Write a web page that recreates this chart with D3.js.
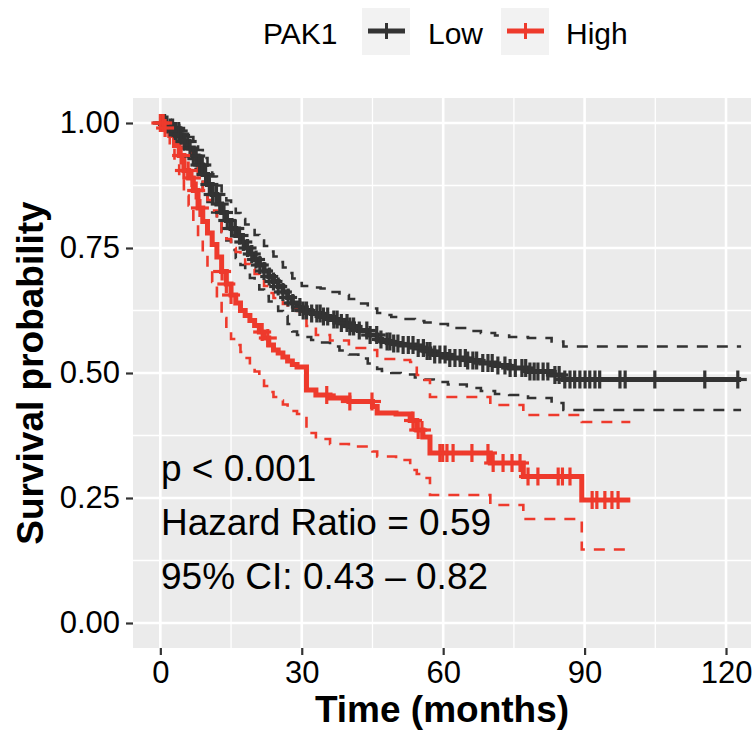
<!DOCTYPE html>
<html>
<head>
<meta charset="utf-8">
<script src="https://cdn.jsdelivr.net/npm/d3@7"></script>
<style>
  body { margin: 0; background: #fff; }
  text { font-family: "Liberation Sans", Arial, sans-serif; }
</style>
</head>
<body>
<div id="chart"></div>
<script>
// ---------- DATA ----------
const lowTime = [0,1,2,3,4,5,6,7,8,9,10,11,12,13,14,15,16,17,18,19,20,21,22,23,24,25,26,27,28,29,30,32,34,36,38,40,42,44,46,47,49,51,54,56,58,61,65,68,71,74,78,83,85.5];
const lowSurv = [1,0.997,0.991,0.984,0.975,0.963,0.95,0.934,0.916,0.897,0.877,0.857,0.838,0.821,0.805,0.789,0.775,0.762,0.75,0.738,0.727,0.716,0.704,0.693,0.683,0.673,0.662,0.651,0.64,0.632,0.625,0.619,0.613,0.607,0.6,0.593,0.585,0.576,0.567,0.563,0.559,0.556,0.55,0.544,0.537,0.53,0.525,0.52,0.515,0.51,0.503,0.496,0.487];
const lowUpper = [1,1,1,0.996,0.99,0.982,0.972,0.96,0.946,0.93,0.912,0.893,0.875,0.86,0.845,0.832,0.82,0.808,0.797,0.786,0.776,0.765,0.754,0.743,0.733,0.722,0.711,0.7,0.689,0.68,0.674,0.671,0.669,0.662,0.656,0.648,0.639,0.629,0.62,0.616,0.612,0.608,0.604,0.601,0.598,0.59,0.584,0.58,0.575,0.572,0.57,0.563,0.553];
const lowLower = [1,0.99,0.982,0.972,0.96,0.945,0.928,0.908,0.886,0.864,0.842,0.821,0.801,0.782,0.765,0.746,0.73,0.716,0.703,0.69,0.678,0.667,0.654,0.643,0.633,0.624,0.614,0.598,0.583,0.576,0.572,0.566,0.561,0.553,0.545,0.537,0.529,0.519,0.508,0.504,0.5,0.497,0.491,0.487,0.482,0.477,0.47,0.464,0.458,0.456,0.45,0.44,0.426];
const lowCensor = [0.3,0.9,1.4,2.1,2.6,3.2,3.9,4.4,5.1,5.8,6.3,7.0,7.6,8.3,8.9,9.6,10.4,11.1,11.9,12.6,13.5,14.2,15.1,15.9,16.8,17.6,18.5,19.4,20.3,21.1,22.0,23.1,24.0,25.0,26,27.1,28.1,29.6,30.3,31,32.1,33.2,33.9,34.6,35.5,36.8,37.5,38.4,39.6,40.2,41,42.2,43.8,44.5,45.9,46.8,48.1,48.7,49.5,50.4,51.5,52.6,53.6,54.7,55.8,56.6,57.2,58.2,59.3,60.4,61.4,62.5,63.6,64.7,65.2,66.3,67.1,68.4,69.5,70.4,71.6,73.1,74.2,75.3,76.7,77.5,78.4,79.3,80.1,81.2,82.2,83.7,84.6,85.8,86.9,87.9,89,90.1,91.1,92.2,93.2,97.5,98.6,104.9,115.5,122.5];
const lowEnd = 123.2;

const highTime = [0,1,2,3,4,5,6,7,8,9,10,11,12,13,14,15,16,17,18,19,20,21,22,23,24,25,26,27,28,29,31,33,36,40,45,46,50,53,54.4,55.7,57.2,70,77,89.4];
const highSurv = [1,0.99,0.975,0.955,0.935,0.905,0.89,0.865,0.83,0.803,0.78,0.757,0.732,0.703,0.678,0.656,0.64,0.625,0.615,0.605,0.595,0.582,0.57,0.556,0.546,0.54,0.532,0.524,0.517,0.512,0.466,0.456,0.45,0.443,0.433,0.42,0.418,0.405,0.386,0.372,0.34,0.32,0.293,0.246];
const highUpper = [1,1,0.995,0.985,0.972,0.95,0.94,0.92,0.89,0.866,0.846,0.825,0.805,0.782,0.768,0.75,0.742,0.73,0.718,0.708,0.698,0.688,0.674,0.66,0.65,0.644,0.638,0.632,0.628,0.624,0.594,0.576,0.565,0.55,0.546,0.528,0.526,0.522,0.496,0.486,0.452,0.436,0.416,0.402];
const highLower = [1,0.975,0.955,0.925,0.895,0.855,0.835,0.8,0.765,0.735,0.705,0.682,0.64,0.61,0.585,0.568,0.556,0.542,0.53,0.516,0.503,0.49,0.474,0.462,0.452,0.445,0.437,0.43,0.424,0.418,0.38,0.368,0.358,0.353,0.343,0.333,0.326,0.306,0.298,0.29,0.256,0.236,0.208,0.147];
const highCensor = [0,0.6,1,4.4,5,5.9,6.7,7.6,8.4,13.1,14,15,21.6,22.8,35.3,40.2,44.9,53.6,54.7,55.5,59.3,59.9,60.8,62.1,66.1,69.5,70.6,72.7,74.6,76.3,78,80.1,84.4,85.3,86.9,91.6,92.6,94.3,95.8,97.1];
const highEnd = 99.7;

const xTicks = [0, 30, 60, 90, 120];
const yTicks = [0, 0.25, 0.5, 0.75, 1];
const groupNames = ["Low", "High"];
const groupColors = ["#333333", "#EE3A2C"];
const annot = ["p < 0.001", "Hazard Ratio = 0.59", "95% CI: 0.43 \u2013 0.82"];

// ---------- LAYOUT ----------
const w = 756, h = 732;
const panel = { left: 133, right: 751, top: 98, bottom: 648 };

const svg = d3.select("#chart").append("svg").attr("width", w).attr("height", h);

const x = d3.scaleLinear().domain([-5.8, 125.3]).range([panel.left, panel.right]);
const y = d3.scaleLinear().domain([-0.05, 1.05]).range([panel.bottom, panel.top]);

// panel background + grid
svg.append("rect")
  .attr("x", panel.left).attr("y", panel.top)
  .attr("width", panel.right - panel.left).attr("height", panel.bottom - panel.top)
  .attr("fill", "#EBEBEB");

const grid = svg.append("g");
const xMinor = [15, 45, 75, 105];
const yMinor = [0.125, 0.375, 0.625, 0.875];
grid.selectAll(".xmin").data(xMinor).enter().append("line")
  .attr("x1", d => x(d)).attr("x2", d => x(d)).attr("y1", panel.top).attr("y2", panel.bottom)
  .attr("stroke", "#fff").attr("stroke-width", 1.3);
grid.selectAll(".ymin").data(yMinor).enter().append("line")
  .attr("y1", d => y(d)).attr("y2", d => y(d)).attr("x1", panel.left).attr("x2", panel.right)
  .attr("stroke", "#fff").attr("stroke-width", 1.3);
grid.selectAll(".xmaj").data(xTicks).enter().append("line")
  .attr("x1", d => x(d)).attr("x2", d => x(d)).attr("y1", panel.top).attr("y2", panel.bottom)
  .attr("stroke", "#fff").attr("stroke-width", 2.6);
grid.selectAll(".ymaj").data(yTicks).enter().append("line")
  .attr("y1", d => y(d)).attr("y2", d => y(d)).attr("x1", panel.left).attr("x2", panel.right)
  .attr("stroke", "#fff").attr("stroke-width", 2.6);

// ---------- CURVES ----------
const groups = [
  { time: lowTime, surv: lowSurv, upper: lowUpper, lower: lowLower, censor: lowCensor, end: lowEnd },
  { time: highTime, surv: highSurv, upper: highUpper, lower: highLower, censor: highCensor, end: highEnd }
];

const stepLine = d3.line().x(d => x(d[0])).y(d => y(d[1])).curve(d3.curveStepAfter);
function pts(time, vals, end) {
  const p = time.map((t, i) => [t, vals[i]]);
  p.push([end, vals[vals.length - 1]]);
  return p;
}

const clip = svg.append("clipPath").attr("id", "clip").append("rect")
  .attr("x", panel.left).attr("y", panel.top)
  .attr("width", panel.right - panel.left).attr("height", panel.bottom - panel.top);
const plot = svg.append("g").attr("clip-path", "url(#clip)");

groups.forEach((g, i) => {
  plot.append("path").attr("d", stepLine(pts(g.time, g.surv, g.end)))
    .attr("fill", "none").attr("stroke", groupColors[i]).attr("stroke-width", 5);
});
groups.forEach((g, i) => {
  [g.upper, g.lower].forEach(v => {
    plot.append("path").attr("d", stepLine(pts(g.time, v, g.end)))
      .attr("fill", "none").attr("stroke", groupColors[i]).attr("stroke-width", 2.6)
      .attr("stroke-dasharray", "11,9");
  });
});
const cs = 9;
groups.forEach((g, i) => {
  const sAt = t => g.surv[Math.max(0, d3.bisectRight(g.time, t) - 1)];
  const c = plot.append("g").attr("stroke", groupColors[i]).attr("stroke-width", 3.2);
  g.censor.forEach(t => {
    const cx = x(t), cy = y(sAt(t));
    c.append("line").attr("x1", cx - cs).attr("x2", cx + cs).attr("y1", cy).attr("y2", cy);
    c.append("line").attr("x1", cx).attr("x2", cx).attr("y1", cy - cs).attr("y2", cy + cs);
  });
});

// ---------- ANNOTATION ----------
svg.selectAll(".annot").data(annot).enter().append("text")
  .attr("x", 161).attr("y", (d, i) => 481 + i * 54)
  .attr("font-size", 37).attr("fill", "#000").text(d => d);

// ---------- AXES ----------
const xAxis = svg.append("g")
  .attr("transform", "translate(0," + panel.bottom + ")")
  .call(d3.axisBottom(x).tickValues(xTicks).tickSize(7).tickPadding(6));
const yAxis = svg.append("g")
  .attr("transform", "translate(" + panel.left + ",0)")
  .call(d3.axisLeft(y).tickValues(yTicks).tickFormat(d3.format(".2f")).tickSize(7).tickPadding(6));
[xAxis, yAxis].forEach(a => {
  a.select(".domain").remove();
  a.selectAll(".tick line").attr("stroke", "#333").attr("stroke-width", 2.2);
  a.selectAll(".tick text").attr("font-size", 31).attr("fill", "#000")
    .attr("font-family", "'Liberation Sans', Arial, sans-serif");
});

svg.append("text").attr("x", (panel.left + panel.right) / 2).attr("y", 722)
  .attr("text-anchor", "middle").attr("font-size", 37).attr("font-weight", "bold")
  .text("Time (months)");
svg.append("text").attr("transform", "translate(43," + ((panel.top + panel.bottom) / 2) + ") rotate(-90)")
  .attr("text-anchor", "middle").attr("font-size", 37).attr("font-weight", "bold")
  .text("Survival probability");

// ---------- LEGEND ----------
const leg = svg.append("g");
leg.append("text").attr("x", 263).attr("y", 44).attr("font-size", 30).text("PAK1");
const keyX = [362, 501], labX = [428, 566];
groupNames.forEach((n, i) => {
  leg.append("rect").attr("x", keyX[i]).attr("y", 8).attr("width", 48).attr("height", 47).attr("fill", "#F2F2F2");
  leg.append("line").attr("x1", keyX[i] + 6).attr("x2", keyX[i] + 43).attr("y1", 31).attr("y2", 31)
    .attr("stroke", groupColors[i]).attr("stroke-width", 5);
  leg.append("line").attr("x1", keyX[i] + 24.5).attr("x2", keyX[i] + 24.5).attr("y1", 23).attr("y2", 39)
    .attr("stroke", groupColors[i]).attr("stroke-width", 3);
  leg.append("text").attr("x", labX[i]).attr("y", 44).attr("font-size", 30).text(n);
});
</script>
</body>
</html>
